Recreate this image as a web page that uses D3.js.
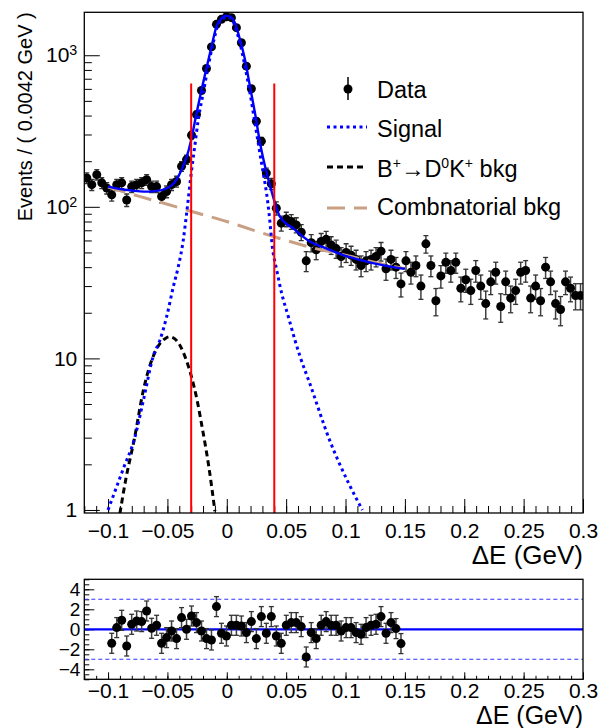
<!DOCTYPE html>
<html>
<head>
<meta charset="utf-8">
<script src="https://cdn.jsdelivr.net/npm/d3@7"></script>
<style>
body { margin: 0; background: #fff; }
svg text { font-family: "Liberation Sans", Arial, Helvetica, sans-serif; fill: #000; }
</style>
</head>
<body>
<svg id="chart" width="608" height="728"></svg>
<script>
// Histogram binning (Events / 0.0042 GeV)
var binStart = -0.12;
var binWidth = 0.0042;

// Data counts per bin
var counts = [
    155, 140, 163, 144, 133, 120, 140, 144, 111, 136,
    140, 144, 151, 136, 136, 117, 126, 140, 147, 185,
    205, 297, 406, 585, 818, 1135, 1599, 1725, 1796, 1769,
    1520, 1210, 847, 601, 367, 271, 167, 142, 98, 78,
    83, 80, 76, 68, 44, 58, 52, 59, 61, 56,
    53, 47, 50, 48, 45, 41, 44, 45, 47, 51,
    39, 45, 40, 31, 44, 37, 41, 30, 57, 41,
    24, 35, 43, 38, 43, 29, 33, 28, 38, 30,
    23, 32, 37, 22, 32, 25, 28, 37, 38, 25,
    30, 24, 40, 32, 23, 21, 32, 29, 26, 26
];

// Pulls, starting at bin 5 (fit range -0.1 .. 0.15)
var pullFirstBin = 5;
var pulls = [
    -1.4, 0.17, 0.9, -1.67, 0.5, 0.83, 0.77, 1.83, 0.1, 0.4,
    -1.4, -0.83, -0.17, -0.93, 1.17, 0, 1.33, 0.67, -0.17, -0.93,
    -1.07, 2.27, -0.4, -0.67, 0.4,
    0.4, 0.33, -0.33, 0.77, -0.93, 1.27, -0.4, 1.27, -0.67, -1.4,
    0.4, 0.67, 0.67, 0.27, -2.77, -0.33, -0.93, 0.4, 0.77, 0.4,
    0.4, -0.17, 0.17, 0.17, -0.33, -0.5, 0.17, 0.4, 0.5, 1.27,
    -0.4, 0.67, 0.07, -1.43
];

// Fit curves [deltaE, events]
var totalFit = [[-0.100,136],[-0.090,131],[-0.080,128],[-0.070,126],[-0.060,127],[-0.050,133],[-0.0442,144],
    [-0.040,163],[-0.036,192],[-0.032,238],[-0.0296,285],[-0.0254,417],[-0.0212,594],[-0.017,827],
    [-0.0128,1148],[-0.0086,1557],[-0.004,1770],[-0.001,1820],[0.002,1810],[0.0068,1640],[0.0111,1271],
    [0.0153,938],[0.0195,625],[0.0237,417],[0.028,264],[0.0336,167],[0.0378,126],[0.0414,101],
    [0.0448,86],[0.056,72],[0.070,59],[0.084,53],[0.098,48],[0.112,44.7],[0.126,42],[0.140,40],[0.150,39]];

var signalPdf = [[-0.100,1.0],[-0.0866,1.92],[-0.078,2.9],[-0.0702,5.3],[-0.062,10.3],[-0.0563,13.2],
    [-0.0506,18.9],[-0.045,29.8],[-0.0408,40.4],[-0.0366,60.6],[-0.0338,91],[-0.030,165],[-0.027,250],
    [-0.024,377],[-0.0198,565],[-0.0156,847],[-0.0114,1210],[-0.0072,1599],[-0.003,1750],[0.0005,1785],
    [0.004,1740],[0.0068,1557],[0.011,1210],[0.0153,847],[0.0195,565],[0.0237,358],[0.0274,238],
    [0.0307,167],[0.0335,123],[0.0355,92],[0.0387,52],[0.042,38.4],[0.0462,26.9],[0.0518,18.9],
    [0.0574,13.2],[0.0617,10.3],[0.070,6.8],[0.0865,2.9],[0.1028,1.49],[0.1142,1.0]];

var peakingBkg = [[-0.090,0.95],[-0.085,1.6],[-0.078,2.9],[-0.070,6.3],[-0.062,10.3],[-0.056,12.6],
    [-0.052,13.5],[-0.048,13.9],[-0.044,13.5],[-0.040,12.4],[-0.034,9.7],[-0.030,7.7],[-0.025,5.3],
    [-0.021,3.6],[-0.015,1.9],[-0.010,0.98]];

var combBkg = [[-0.100,135],[-0.075,118],[-0.050,104],[-0.025,91],[0.000,80],[0.025,69],[0.050,60],
    [0.075,53],[0.100,48],[0.125,43],[0.150,39]];

// Signal window cuts
var cutLines = [-0.03, 0.04];
var cutTop = 650;

// Axes
var xDomain = [-0.12, 0.3];
var yDomain = [0.955, 1920];
var pullDomain = [-5, 5];
var xTicks = [-0.1, -0.05, 0, 0.05, 0.1, 0.15, 0.2, 0.25, 0.3];
var xTickLabels = ["\u22120.1", "\u22120.05", "0", "0.05", "0.1", "0.15", "0.2", "0.25", "0.3"];
var yTicks = [1, 10, 100, 1000];
var pullTicks = [-4, -2, 0, 2, 4];
var pullTickLabels = ["\u22124", "\u22122", "0", "2", "4"];
var pullBands = [-3, 3];

var legendLabels = ["Data", "Signal", "B+\u2192D0K+ bkg", "Combnatorial bkg"];

var colors = {
    data: "#000",
    total: "#0000ff",
    signal: "#0000ff",
    peaking: "#000",
    comb: "#c9a084",
    cut: "#ff0000"
};

var frame = { left: 84.3, right: 583, top: 12.3, bottom: 513, pullTop: 579.3, pullBottom: 679.3 };

var svg = d3.select("#chart");

var x = d3.scaleLinear().domain(xDomain).range([frame.left, frame.right]);
var y = d3.scaleLog().domain(yDomain).range([frame.bottom, frame.top]);
var yPull = d3.scaleLinear().domain(pullDomain).range([frame.pullBottom, frame.pullTop]);

var binCenter = function(i) {
    return binStart + binWidth * (i + 0.5);
};

var defs = svg.append("defs");
defs.append("clipPath").attr("id", "mainClip").append("rect")
    .attr("x", frame.left).attr("y", frame.top)
    .attr("width", frame.right - frame.left).attr("height", frame.bottom - frame.top);

var styleAxis = function(g, size) {
    g.select(".domain").remove();
    g.attr("font-family", "Liberation Sans, Arial, sans-serif").attr("font-size", size);
    g.selectAll(".tick line").attr("stroke", "#000").attr("stroke-width", 1);
    g.selectAll(".tick text").attr("fill", "#000");
};

// ---------- main pad ----------
var main = svg.append("g");

// minor x ticks
var xMinor = d3.range(-12, 31).map(function(k) { return k / 100; });
main.append("g")
    .attr("transform", "translate(0," + frame.bottom + ")")
    .call(d3.axisBottom(x).tickValues(xMinor).tickSize(-7).tickFormat(""))
    .call(function(g) { styleAxis(g, 21); });

main.append("g")
    .attr("transform", "translate(0," + frame.bottom + ")")
    .call(d3.axisBottom(x).tickValues(xTicks).tickSize(-14).tickPadding(10)
        .tickFormat(function(d, i) { return xTickLabels[i]; }))
    .call(function(g) { styleAxis(g, 21); });

// minor y ticks (log)
var yMinor = [];
yTicks.forEach(function(dec) {
    for (var k = 2; k <= 9; k++) {
        if (dec * k <= yDomain[1]) yMinor.push(dec * k);
    }
});
main.append("g")
    .attr("transform", "translate(" + frame.left + ",0)")
    .call(d3.axisLeft(y).tickValues(yMinor).tickSize(-7.5).tickFormat(""))
    .call(function(g) { styleAxis(g, 21); });

var yAxisG = main.append("g")
    .attr("transform", "translate(" + frame.left + ",0)")
    .call(d3.axisLeft(y).tickValues(yTicks).tickSize(-15.5).tickPadding(7)
        .tickFormat(function(d) { return d >= 100 ? "10" : String(d); }))
    .call(function(g) { styleAxis(g, 21); });

yAxisG.selectAll(".tick text").each(function(d) {
    if (d >= 100) {
        d3.select(this).append("tspan")
            .attr("dy", "-0.5em")
            .attr("font-size", "0.68em")
            .text(String(Math.round(Math.log10(d))));
    }
});

// axis titles
main.append("text")
    .attr("transform", "translate(32," + frame.top + ") rotate(-90)")
    .attr("text-anchor", "end")
    .attr("font-size", 20)
    .text("Events / ( 0.0042 GeV )");

main.append("text")
    .attr("x", frame.right)
    .attr("y", 564)
    .attr("text-anchor", "end")
    .attr("font-size", 26)
    .text("\u0394E (GeV)");

// data points
var dataG = main.append("g").attr("clip-path", "url(#mainClip)");
var bins = counts.map(function(n, i) { return { x: binCenter(i), n: n }; });

dataG.selectAll("line.err")
    .data(bins)
    .enter()
    .append("line")
    .attr("class", "err")
    .attr("x1", function(d) { return x(d.x); })
    .attr("x2", function(d) { return x(d.x); })
    .attr("y1", function(d) { return y(d.n - Math.sqrt(d.n)); })
    .attr("y2", function(d) { return y(d.n + Math.sqrt(d.n)); })
    .attr("stroke", "#404040")
    .attr("stroke-width", 1.5);

[-1, 1].forEach(function(side) {
    dataG.selectAll("line.cap" + (side + 1))
        .data(bins)
        .enter()
        .append("line")
        .attr("x1", function(d) { return x(d.x) - 2.5; })
        .attr("x2", function(d) { return x(d.x) + 2.5; })
        .attr("y1", function(d) { return y(d.n + side * Math.sqrt(d.n)); })
        .attr("y2", function(d) { return y(d.n + side * Math.sqrt(d.n)); })
        .attr("stroke", "#333")
        .attr("stroke-width", 1.3);
});

dataG.selectAll("circle")
    .data(bins)
    .enter()
    .append("circle")
    .attr("cx", function(d) { return x(d.x); })
    .attr("cy", function(d) { return y(d.n); })
    .attr("r", 4.5)
    .attr("fill", colors.data);

// curves
var curveLine = d3.line()
    .x(function(d) { return x(d[0]); })
    .y(function(d) { return y(d[1]); })
    .curve(d3.curveMonotoneX);

var curveG = main.append("g").attr("clip-path", "url(#mainClip)");

curveG.append("path").datum(combBkg)
    .attr("d", curveLine).attr("fill", "none")
    .attr("stroke", colors.comb).attr("stroke-width", 3).attr("stroke-dasharray", "18,9");

curveG.append("path").datum(peakingBkg)
    .attr("d", curveLine).attr("fill", "none")
    .attr("stroke", colors.peaking).attr("stroke-width", 3).attr("stroke-dasharray", "6,4");

curveG.append("path").datum(signalPdf)
    .attr("d", curveLine).attr("fill", "none")
    .attr("stroke", colors.signal).attr("stroke-width", 3).attr("stroke-dasharray", "3,3.5");

curveG.append("path").datum(totalFit)
    .attr("d", curveLine).attr("fill", "none")
    .attr("stroke", colors.total).attr("stroke-width", 2.4);

// cut lines
main.selectAll("line.cut")
    .data(cutLines)
    .enter()
    .append("line")
    .attr("class", "cut")
    .attr("x1", function(d) { return x(d); })
    .attr("x2", function(d) { return x(d); })
    .attr("y1", y(cutTop))
    .attr("y2", frame.bottom)
    .attr("stroke", colors.cut)
    .attr("stroke-width", 2);

// frame
main.append("rect")
    .attr("x", frame.left).attr("y", frame.top)
    .attr("width", frame.right - frame.left).attr("height", frame.bottom - frame.top)
    .attr("fill", "none").attr("stroke", "#000").attr("stroke-width", 1.3);

// legend
var legend = main.append("g").attr("font-size", 23.5);
var legendY = [89, 127, 167, 208];
var legendTextX = 377;

// Data entry
legend.append("line")
    .attr("x1", 348).attr("x2", 348).attr("y1", 77).attr("y2", 100)
    .attr("stroke", "#000").attr("stroke-width", 1.5);
legend.append("circle").attr("cx", 348).attr("cy", legendY[0]).attr("r", 4.5).attr("fill", colors.data);

legend.append("line")
    .attr("x1", 327).attr("x2", 367).attr("y1", legendY[1]).attr("y2", legendY[1])
    .attr("stroke", colors.signal).attr("stroke-width", 3).attr("stroke-dasharray", "3,3.5");
legend.append("line")
    .attr("x1", 327).attr("x2", 367).attr("y1", legendY[2]).attr("y2", legendY[2])
    .attr("stroke", colors.peaking).attr("stroke-width", 3).attr("stroke-dasharray", "6,4");
legend.append("line")
    .attr("x1", 327).attr("x2", 367).attr("y1", legendY[3]).attr("y2", legendY[3])
    .attr("stroke", colors.comb).attr("stroke-width", 3).attr("stroke-dasharray", "18,9");

legend.append("text").attr("x", legendTextX).attr("y", 97.7).text(legendLabels[0]);
legend.append("text").attr("x", legendTextX).attr("y", 137.3).text(legendLabels[1]);

// B+ -> D0 K+ bkg with superscripts
var bkgText = legend.append("text").attr("x", legendTextX).attr("y", 176.7);
var bkgParts = [["B", false], ["+", true], ["\u2192D", false], ["0", true], ["K", false], ["+", true], [" bkg", false]];
bkgParts.forEach(function(p, i) {
    var t = bkgText.append("tspan").text(p[0]);
    if (p[1]) {
        t.attr("font-size", 14).attr("dy", -9);
    } else if (i > 0 && bkgParts[i - 1][1]) {
        t.attr("dy", 9);
    }
});

legend.append("text").attr("x", legendTextX).attr("y", 215).text(legendLabels[3]);

// ---------- pull pad ----------
var pull = svg.append("g");

pull.append("g")
    .attr("transform", "translate(0," + frame.pullBottom + ")")
    .call(d3.axisBottom(x).tickValues(xMinor).tickSize(-3.5).tickFormat(""))
    .call(function(g) { styleAxis(g, 21); });

pull.append("g")
    .attr("transform", "translate(0," + frame.pullBottom + ")")
    .call(d3.axisBottom(x).tickValues(xTicks).tickSize(-7).tickPadding(4)
        .tickFormat(function(d, i) { return xTickLabels[i]; }))
    .call(function(g) { styleAxis(g, 21); });

var pullMinor = d3.range(-10, 11).map(function(k) { return k / 2; });
pull.append("g")
    .attr("transform", "translate(" + frame.left + ",0)")
    .call(d3.axisLeft(yPull).tickValues(pullMinor).tickSize(-5).tickFormat(""))
    .call(function(g) { styleAxis(g, 19); });

pull.append("g")
    .attr("transform", "translate(" + frame.left + ",0)")
    .call(d3.axisLeft(yPull).tickValues(pullTicks).tickSize(-10).tickPadding(4)
        .tickFormat(function(d, i) { return pullTickLabels[i]; }))
    .call(function(g) { styleAxis(g, 19); });

pull.append("text")
    .attr("x", frame.right)
    .attr("y", 724)
    .attr("text-anchor", "end")
    .attr("font-size", 25)
    .text("\u0394E (GeV)");

pull.selectAll("line.band")
    .data(pullBands)
    .enter()
    .append("line")
    .attr("class", "band")
    .attr("x1", frame.left).attr("x2", frame.right)
    .attr("y1", function(d) { return yPull(d); })
    .attr("y2", function(d) { return yPull(d); })
    .attr("stroke", "#3333ff").attr("stroke-width", 1.1).attr("stroke-dasharray", "4,3");

pull.append("line")
    .attr("x1", frame.left).attr("x2", frame.right)
    .attr("y1", yPull(0)).attr("y2", yPull(0))
    .attr("stroke", colors.total).attr("stroke-width", 2.2);

var pullPts = pulls.map(function(p, i) { return { x: binCenter(pullFirstBin + i), p: p }; });

pull.selectAll("line.perr")
    .data(pullPts)
    .enter()
    .append("line")
    .attr("x1", function(d) { return x(d.x); })
    .attr("x2", function(d) { return x(d.x); })
    .attr("y1", function(d) { return yPull(d.p - 1); })
    .attr("y2", function(d) { return yPull(d.p + 1); })
    .attr("stroke", "#404040").attr("stroke-width", 1.5);

[-1, 1].forEach(function(side) {
    pull.selectAll("line.pcap" + (side + 1))
        .data(pullPts)
        .enter()
        .append("line")
        .attr("x1", function(d) { return x(d.x) - 2.5; })
        .attr("x2", function(d) { return x(d.x) + 2.5; })
        .attr("y1", function(d) { return yPull(d.p + side); })
        .attr("y2", function(d) { return yPull(d.p + side); })
        .attr("stroke", "#333").attr("stroke-width", 1.3);
});

pull.selectAll("circle")
    .data(pullPts)
    .enter()
    .append("circle")
    .attr("cx", function(d) { return x(d.x); })
    .attr("cy", function(d) { return yPull(d.p); })
    .attr("r", 4.5)
    .attr("fill", colors.data);

pull.append("rect")
    .attr("x", frame.left).attr("y", frame.pullTop)
    .attr("width", frame.right - frame.left).attr("height", frame.pullBottom - frame.pullTop)
    .attr("fill", "none").attr("stroke", "#000").attr("stroke-width", 1.3);
</script>
</body>
</html>
